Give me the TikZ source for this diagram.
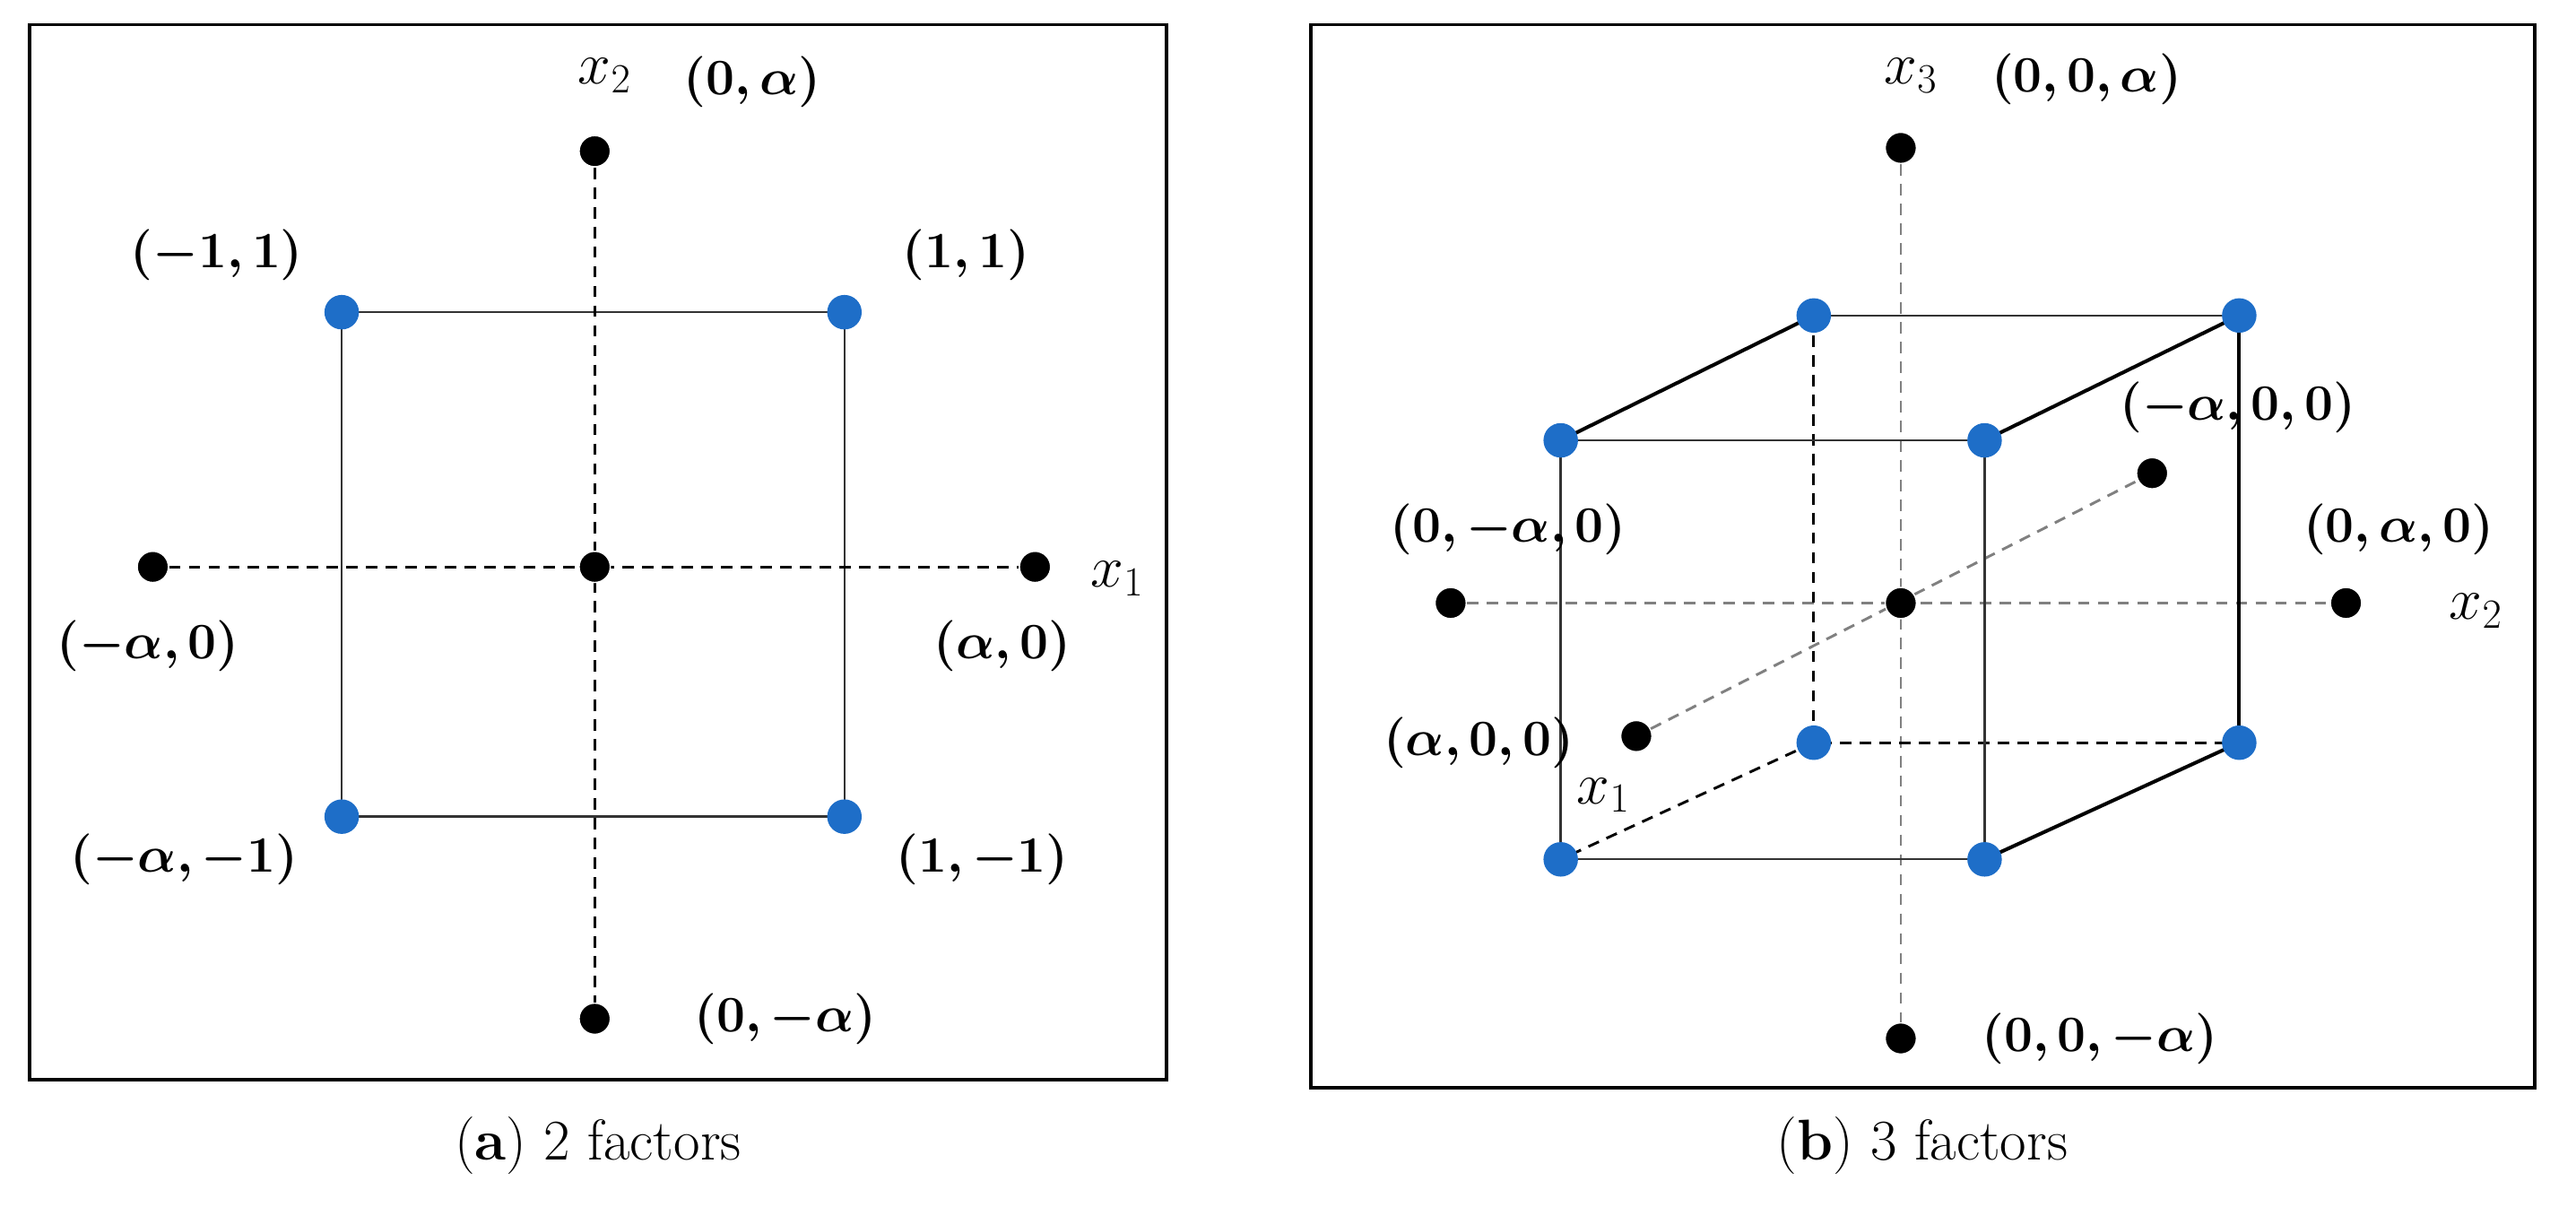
\RequirePackage{fix-cm}
\documentclass[tikz,border=0pt]{standalone}
\usepackage{amsmath,bm}
\begin{document}
\begin{tikzpicture}[x=1pt,y=-1pt,
  bd/.style={circle,fill=black,draw=white,line width=0.8pt,inner sep=0pt,minimum size=19pt},
  bl/.style={circle,inner sep=0pt,minimum size=21pt},
  lab/.style={font=\fontsize{31}{34}\selectfont,inner sep=0pt},
  xlab/.style={font=\fontsize{36}{40}\selectfont,inner sep=0pt},
  captxt/.style={font=\fontsize{35}{38}\selectfont},
  ax/.style={line width=1.6pt,dash pattern=on 7pt off 5pt},
  gax/.style={ax,gray},
  edge/.style={line width=1.3pt,black!80},
  tedge/.style={line width=2.2pt}]
\definecolor{dotblue}{RGB}{30,110,200}
\useasboundingbox (0,0) rectangle (1568,740);
\fill[white] (0,0) rectangle (1568,740);
% panel a
\draw[line width=2pt] (18,15) rectangle (710,657);
\coordinate (a1) at (208,190); \coordinate (a2) at (514,190);
\coordinate (a3) at (514,497); \coordinate (a4) at (208,497);
\draw[edge] (a1)--(a2)--(a3)--(a4)--cycle;
\node[bd] (at) at (362,92) {}; \node[bd] (ab) at (362,620) {};
\node[bd] (al) at (93,345) {}; \node[bd] (ar) at (630,345) {};
\node[bd] (ac) at (362,345) {};
\draw[ax] (at)--(ab); \draw[ax] (al)--(ar);
\node[bd] at (ac) {};
\foreach \c in {a1,a2,a3,a4} \node[bl,fill=dotblue] at (\c) {};
\node[xlab] at (368,46) {$x_2$};
\node[lab] at (458,50) {$\bm{(0,\alpha)}$};
\node[lab] at (132,155) {$\bm{(-1,1)}$};
\node[lab] at (588,155) {$\bm{(1,1)}$};
\node[xlab] at (680,352) {$x_1$};
\node[lab] at (90,393) {$\bm{(-\alpha,0)}$};
\node[lab] at (610,393) {$\bm{(\alpha,0)}$};
\node[lab] at (112,523) {$\bm{(-\alpha,-1)}$};
\node[lab] at (598,523) {$\bm{(1,-1)}$};
\node[lab] at (478,620) {$\bm{(0,-\alpha)}$};
\node[captxt] at (364,697) {(\textbf{a}) 2 factors};
% panel b
\draw[line width=2pt] (798,15) rectangle (1543,662);
\coordinate (f1) at (950,268); \coordinate (f2) at (1208,268);
\coordinate (f3) at (1208,523); \coordinate (f4) at (950,523);
\coordinate (b1) at (1104,192); \coordinate (b2) at (1363,192);
\coordinate (b3) at (1363,452); \coordinate (b4) at (1104,452);
\node[bd] (bt) at (1157,90) {}; \node[bd] (bb) at (1157,632) {};
\node[bd] (bl) at (883,367) {}; \node[bd] (br) at (1428,367) {};
\node[bd] (xf) at (996,448) {}; \node[bd] (xb) at (1310,288) {};
\node[bd] (bc) at (1157,367) {};
\draw[gax] (bt)--(bb); \draw[gax] (bl)--(br); \draw[gax] (xf)--(xb);
\draw[ax] (b1)--(b4)--(b3); \draw[ax] (b4)--(f4);
\draw[edge] (f1)--(f2)--(f3)--(f4)--cycle;
\draw[edge] (b1)--(b2)--(b3);
\draw[tedge] (f1)--(b1); \draw[tedge] (f2)--(b2); \draw[tedge] (f3)--(b3);
\draw[tedge] (b2)--(b3);
\node[bd] at (bc) {};
\foreach \c in {f1,f2,f3,f4,b1,b2,b3,b4} \node[bl,fill=dotblue] at (\c) {};
\node[xlab] at (1163,46) {$x_3$};
\node[lab] at (1270,48) {$\bm{(0,0,\alpha)}$};
\node[lab] at (1362,248) {$\bm{(-\alpha,0,0)}$};
\node[lab] at (918,322) {$\bm{(0,-\alpha,0)}$};
\node[lab] at (1460,322) {$\bm{(0,\alpha,0)}$};
\node[xlab] at (1507,372) {$x_2$};
\node[lab] at (900,452) {$\bm{(\alpha,0,0)}$};
\node[xlab] at (976,484) {$x_1$};
\node[lab] at (1278,632) {$\bm{(0,0,-\alpha)}$};
\node[captxt] at (1170,697) {(\textbf{b}) 3 factors};
\end{tikzpicture}
\end{document}
